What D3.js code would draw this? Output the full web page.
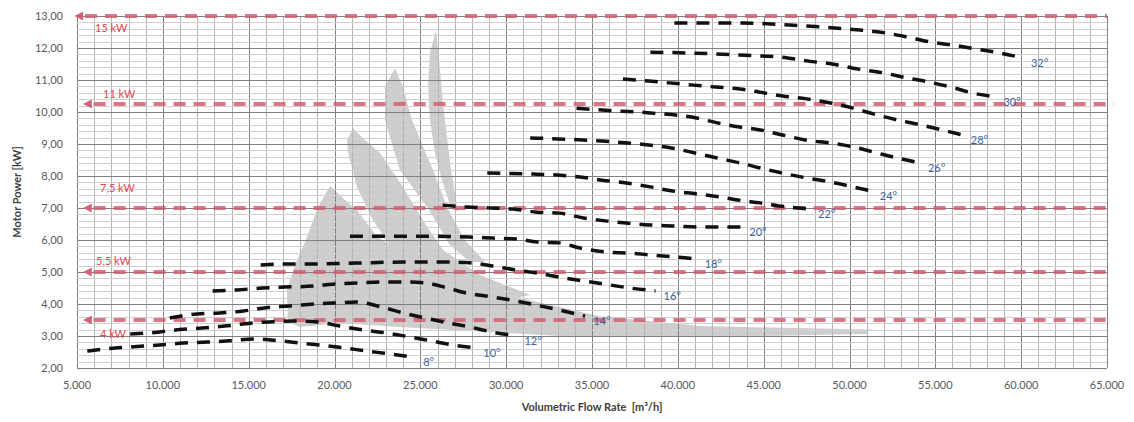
<!DOCTYPE html>
<html><head><meta charset="utf-8">
<script src="https://cdn.jsdelivr.net/npm/d3@7"></script>
<style>
html,body{margin:0;padding:0;background:#fff;}
svg{display:block;font-family:Lato,"Open Sans",sans-serif;}
</style></head>
<body><svg id="chart" width="1134" height="422"></svg>
<script>
// ---------- DATA ----------
const xTicks = [5000,10000,15000,20000,25000,30000,35000,40000,45000,50000,55000,60000,65000];
const yTicks = [2,3,4,5,6,7,8,9,10,11,12,13];
const xTitle = "Volumetric Flow Rate\u00a0\u00a0[m³/h]";
const yTitle = "Motor Power [kW]";

const motorLevels = [13.0, 10.25, 7.0, 5.0, 3.5];
const motorLabels = ["15 kW", "11 kW", "7,5 kW", "5,5 kW", "4 kW"];
const motorStart  = [5000, 5500, 5500, 5500, 5500];
const motorEnd    = [65000, 65400, 65300, 65300, 65300];

const angleLabels = ["8°","10°","12°","14°","16°","18°","20°","22°","24°","26°","28°","30°","32°"];
const curve8  = [[5600,2.53],[7100,2.62],[8500,2.67],[9800,2.72],[11200,2.78],[12600,2.81],[13900,2.85],[15300,2.91],[16600,2.86],[18000,2.78],[19300,2.71],[20500,2.63],[21900,2.53],[23200,2.44],[24700,2.33]];
const curve10 = [[8100,3.06],[9700,3.12],[11000,3.2],[12300,3.25],[13600,3.31],[15100,3.4],[16200,3.44],[17600,3.47],[19000,3.44],[20300,3.31],[21700,3.19],[23100,3.09],[24400,2.97],[25700,2.84],[26900,2.72],[28200,2.63]];
const curve12 = [[10400,3.56],[12000,3.69],[13300,3.72],[14700,3.78],[15800,3.87],[17400,3.94],[18800,4.0],[19900,4.03],[21300,4.06],[22700,3.91],[24000,3.72],[25300,3.56],[26600,3.41],[27900,3.28],[29200,3.12],[30600,3.0]];
const curve14 = [[12900,4.41],[14300,4.44],[15800,4.5],[17100,4.53],[18800,4.56],[19900,4.62],[21400,4.66],[22700,4.69],[24000,4.69],[25300,4.66],[26600,4.5],[27700,4.34],[29200,4.22],[30600,4.09],[31900,3.95],[33100,3.81],[34600,3.62]];
const curve16 = [[15700,5.22],[17200,5.25],[18800,5.25],[21300,5.28],[24000,5.31],[26600,5.31],[28000,5.28],[29200,5.19],[30600,5.06],[31800,4.97],[33100,4.84],[34500,4.72],[36100,4.59],[37200,4.5],[38700,4.41]];
const curve18 = [[20900,6.12],[22300,6.12],[23700,6.12],[25100,6.12],[26600,6.11],[27900,6.09],[29200,6.06],[30600,6.03],[31800,5.94],[33100,5.91],[34300,5.75],[35900,5.62],[37200,5.59],[38500,5.53],[39800,5.47],[41100,5.41]];
const curve20 = [[26300,7.09],[27700,7.03],[29100,7.0],[30400,6.97],[31800,6.87],[33100,6.84],[34500,6.69],[35900,6.59],[37000,6.53],[38400,6.47],[39700,6.44],[41100,6.41],[42500,6.41],[43700,6.41]];
const curve22 = [[28900,8.09],[30200,8.08],[31600,8.06],[33000,8.03],[34300,7.97],[35600,7.87],[37000,7.78],[38400,7.66],[39700,7.53],[41100,7.44],[42500,7.34],[43500,7.25],[44800,7.16],[46400,7.03],[47700,6.97]];
const curve24 = [[31400,9.19],[33000,9.16],[35600,9.09],[38300,8.97],[39700,8.87],[41000,8.72],[42300,8.56],[43600,8.41],[44800,8.25],[46100,8.09],[47500,7.94],[48900,7.81],[50200,7.66],[51300,7.53]];
const curve26 = [[34100,10.12],[35600,10.06],[38400,9.97],[41100,9.81],[42300,9.66],[43600,9.53],[44800,9.44],[46100,9.28],[47500,9.12],[48900,9.03],[50200,8.91],[51600,8.72],[52800,8.56],[54100,8.41]];
const curve28 = [[36800,11.03],[38300,10.97],[39500,10.91],[40900,10.84],[42200,10.78],[43600,10.72],[44800,10.62],[46100,10.5],[47500,10.41],[48900,10.28],[50200,10.12],[51600,9.91],[52800,9.75],[54200,9.59],[55400,9.44],[56600,9.28]];
const curve30 = [[38400,11.87],[40900,11.84],[43600,11.78],[46400,11.69],[47600,11.59],[49000,11.5],[50200,11.37],[52000,11.22],[53400,11.06],[54600,10.94],[55900,10.78],[57200,10.59],[58500,10.47]];
const curve32 = [[39800,12.78],[43800,12.78],[46500,12.72],[49300,12.62],[50600,12.56],[52100,12.47],[53400,12.34],[54700,12.19],[56000,12.09],[57400,11.97],[58800,11.84],[60100,11.69]];
const curves = [curve8,curve10,curve12,curve14,curve16,curve18,curve20,curve22,curve24,curve26,curve28,curve30,curve32];

// grey operating zones (flow, power)
const zoneA = [[25910,12.56],[26145,11.31],[26320,10.28],[26550,9.22],[26790,8.19],[27080,7.25],[27190,6.87],[26730,7.09],[26260,7.87],[25850,8.72],[25560,9.75],[25450,10.78],[25560,11.84]];
const zoneB = [[23520,11.37],[23990,10.78],[24510,9.75],[25740,8.19],[26550,7.03],[27600,6.0],[28770,5.31],[27890,5.31],[26730,5.84],[25390,7.03],[23810,8.19],[22940,9.75],[22940,10.78]];
const zoneC = [[21080,9.5],[21780,9.12],[22650,8.72],[23990,7.66],[25150,6.62],[26320,5.69],[28470,4.91],[31390,4.28],[30510,4.19],[27890,4.59],[24980,5.12],[23410,5.69],[22240,6.62],[21310,7.66],[20790,8.72],[20730,9.12]];
const zoneD = [[19740,7.69],[20610,7.25],[21310,6.94],[22480,6.09],[24980,5.31],[27890,4.69],[31390,4.12],[35470,3.62],[41290,3.31],[51190,3.2],[51000,3.06],[41290,2.97],[33130,3.0],[27890,3.16],[23810,3.28],[20320,3.41],[17990,3.28],[17290,3.44],[17230,4.44],[17700,5.22],[18280,5.94],[19040,7.03]];
const zones = [zoneA, zoneB, zoneC, zoneD];

// ---------- CHART ----------
const svg = d3.select("#chart");
const W = 1134, H = 422;
const m = {left:77, right:27, top:16, bottom:54};
const x = d3.scaleLinear().domain([5000,65000]).range([m.left, W-m.right]);
const y = d3.scaleLinear().domain([2,13]).range([H-m.bottom, m.top]);
const loc = d3.formatLocale({decimal:",", thousands:".", grouping:[3], currency:["","€"]});
const fx = loc.format(",.0f"), fy = loc.format(".2f");

// grey zones (under grid)
const zg = svg.append("g").attr("opacity",0.42);
zg.selectAll("path").data(zones).join("path")
  .attr("d", d => d3.line().x(p=>x(p[0])).y(p=>y(p[1])).curve(d3.curveLinearClosed)(d))
  .attr("fill","#8a8a8a");

// grid
const g = svg.append("g");
const xMinor = d3.range(5000, 65001, 1000);
const yMinor = d3.range(0, 56).map(i => 2 + i*0.2);
g.selectAll(".vx").data(xMinor).join("line")
  .attr("x1",d=>Math.round(x(d))+0.5).attr("x2",d=>Math.round(x(d))+0.5)
  .attr("y1",y(2)).attr("y2",y(13))
  .attr("stroke", d => d%5000===0 ? "#808080" : "#b4b4b4").attr("stroke-width",1);
g.selectAll(".hy").data(yMinor).join("line")
  .attr("y1",d=>Math.round(y(d))+0.5).attr("y2",d=>Math.round(y(d))+0.5)
  .attr("x1",x(5000)).attr("x2",x(65000))
  .attr("stroke", d => Math.abs(d-Math.round(d))<1e-6 ? "#808080" : "#d0d0d0").attr("stroke-width",1);

// axes labels
svg.append("g").selectAll("text").data(yTicks).join("text")
  .attr("x", 63).attr("y", d=>y(d)+4).attr("text-anchor","end")
  .attr("font-size",11).attr("fill","#595959").text(d=>fy(d));
svg.append("g").selectAll("text").data(xTicks).join("text")
  .attr("x", d=>x(d)).attr("y", 389).attr("text-anchor","middle")
  .attr("font-size",11).attr("fill","#595959").text(d=>fx(d));
svg.append("text").attr("x", x(35000)).attr("y", 411).attr("text-anchor","middle")
  .attr("font-size",11).attr("font-weight","bold").attr("fill","#404040").text(xTitle);
svg.append("text").attr("transform",`translate(21,${(y(2)+y(13))/2}) rotate(-90)`)
  .attr("text-anchor","middle").attr("font-size",11).attr("font-weight","bold").attr("fill","#404040").text(yTitle);

// motor power lines
const defs = svg.append("defs");
defs.append("marker").attr("id","arr").attr("viewBox","0 0 10 10").attr("refX",3).attr("refY",5)
  .attr("markerWidth",2.2).attr("markerHeight",2.2).attr("orient","auto")
  .attr("markerUnits","strokeWidth")
  .append("path").attr("d","M10,0 L0,5 L10,10 Z").attr("fill","#d45f72");
const mg = svg.append("g");
mg.selectAll("line").data(motorLevels).join("line")
  .attr("x1",(d,i)=>x(motorStart[i])).attr("x2",(d,i)=>x(motorEnd[i]))
  .attr("y1",d=>y(d)).attr("y2",d=>y(d))
  .attr("stroke","#d45f72").attr("stroke-opacity",0.85).attr("stroke-width",4)
  .attr("stroke-dasharray","12,8").attr("stroke-dashoffset",-8)
  .attr("marker-start","url(#arr)");
const kwDx = [18, 26, 23, 19, 23];
const kwDy = [16, -6, -16, -7, 18];
mg.selectAll("text").data(motorLevels).join("text")
  .attr("x",(d,i)=>x(5000)+kwDx[i]).attr("y",(d,i)=>y(d)+kwDy[i])
  .attr("font-size",11).attr("fill","#e2474f").text((d,i)=>motorLabels[i]);

// blade angle curves
const line = d3.line().x(p=>x(p[0])).y(p=>y(p[1])).curve(d3.curveMonotoneX);
const cg = svg.append("g");
cg.selectAll("path").data(curves).join("path")
  .attr("d", line).attr("fill","none").attr("stroke","#111")
  .attr("stroke-width",3.5).attr("stroke-dasharray","13,9");
cg.selectAll("text").data(curves).join("text")
  .attr("x", d=>x(d[d.length-1][0])+8).attr("y", d=>y(d[d.length-1][1])+9)
  .attr("font-size",11).attr("fill","#3e5f9e").text((d,i)=>angleLabels[i]);
</script></body></html>
